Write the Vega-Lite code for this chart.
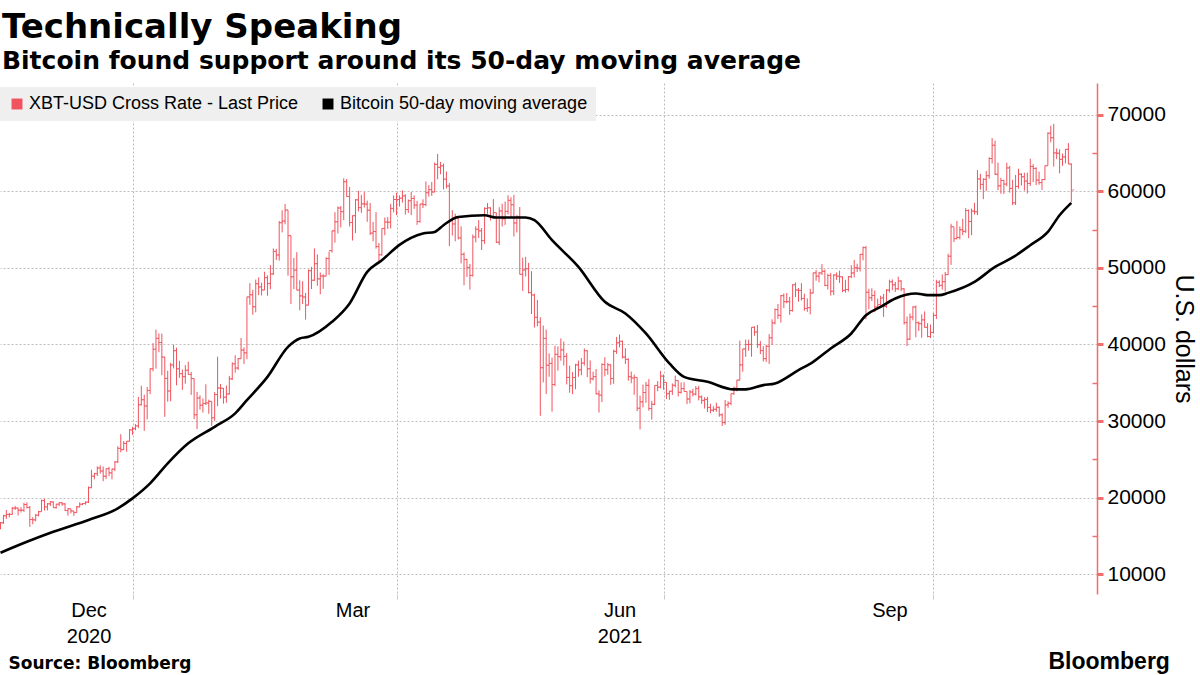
{
"$schema":"https://vega.github.io/schema/vega-lite/v6.json",
"width":1097,"height":511,
"autosize":{"type":"none"},
"padding":{"left":0,"top":83,"right":103,"bottom":81},
"background":"white",
"config":{"view":{"stroke":null},"font":"Liberation Sans"},
"title":{"text":"Technically Speaking","subtitle":"Bitcoin found support around its 50-day moving average","anchor":"start","frame":"group","offset":9,"dx":2,"font":"DejaVu Sans","fontSize":34,"fontWeight":"bold","color":"#000000","subtitleFont":"DejaVu Sans","subtitleFontSize":25,"subtitleFontWeight":"bold","subtitleColor":"#000000","subtitlePadding":4},
"datasets":{
"px":[
{"d":"2020-11-16","o":15955,"h":16820,"l":15880,"c":16716},
{"d":"2020-11-17","o":16716,"h":17760,"l":16570,"c":17645},
{"d":"2020-11-18","o":17645,"h":18394,"l":17214,"c":17804},
{"d":"2020-11-19","o":17804,"h":18020,"l":17413,"c":17817},
{"d":"2020-11-20","o":17817,"h":18799,"l":17774,"c":18621},
{"d":"2020-11-21","o":18621,"h":18936,"l":18413,"c":18642},
{"d":"2020-11-22","o":18642,"h":18688,"l":17671,"c":18370},
{"d":"2020-11-23","o":18370,"h":18759,"l":18063,"c":18365},
{"d":"2020-11-24","o":18365,"h":19348,"l":18145,"c":19107},
{"d":"2020-11-25","o":19107,"h":19390,"l":18581,"c":18732},
{"d":"2020-11-26","o":18732,"h":18915,"l":16188,"c":17150},
{"d":"2020-11-27","o":17150,"h":17457,"l":16526,"c":17109},
{"d":"2020-11-28","o":17109,"h":17853,"l":16910,"c":17717},
{"d":"2020-11-29","o":17717,"h":18283,"l":17559,"c":18177},
{"d":"2020-11-30","o":18177,"h":19749,"l":18179,"c":19625},
{"d":"2020-12-01","o":19625,"h":19845,"l":18321,"c":18802},
{"d":"2020-12-02","o":18802,"h":19308,"l":18347,"c":19201},
{"d":"2020-12-03","o":19201,"h":19566,"l":18925,"c":19446},
{"d":"2020-12-04","o":19446,"h":19512,"l":18697,"c":18699},
{"d":"2020-12-05","o":18699,"h":19160,"l":18590,"c":19155},
{"d":"2020-12-06","o":19155,"h":19390,"l":18897,"c":19345},
{"d":"2020-12-07","o":19345,"h":19411,"l":18931,"c":19191},
{"d":"2020-12-08","o":19191,"h":19283,"l":18269,"c":18321},
{"d":"2020-12-09","o":18321,"h":18639,"l":17650,"c":18553},
{"d":"2020-12-10","o":18553,"h":18553,"l":17957,"c":18264},
{"d":"2020-12-11","o":18264,"h":18268,"l":17619,"c":18058},
{"d":"2020-12-12","o":18058,"h":18919,"l":18047,"c":18803},
{"d":"2020-12-13","o":18803,"h":19381,"l":18735,"c":19142},
{"d":"2020-12-14","o":19142,"h":19305,"l":19012,"c":19246},
{"d":"2020-12-15","o":19246,"h":19525,"l":19079,"c":19417},
{"d":"2020-12-16","o":19417,"h":21458,"l":19298,"c":21310},
{"d":"2020-12-17","o":21310,"h":23642,"l":21234,"c":22805},
{"d":"2020-12-18","o":22805,"h":23238,"l":22399,"c":23137},
{"d":"2020-12-19","o":23137,"h":24085,"l":22828,"c":23869},
{"d":"2020-12-20","o":23869,"h":24209,"l":23147,"c":23477},
{"d":"2020-12-21","o":23477,"h":24059,"l":22159,"c":22803},
{"d":"2020-12-22","o":22803,"h":23789,"l":22430,"c":23783},
{"d":"2020-12-23","o":23783,"h":24024,"l":22802,"c":23241},
{"d":"2020-12-24","o":23241,"h":23783,"l":22397,"c":23735},
{"d":"2020-12-25","o":23735,"h":24785,"l":23464,"c":24664},
{"d":"2020-12-26","o":24664,"h":26718,"l":24522,"c":26437},
{"d":"2020-12-27","o":26437,"h":28288,"l":25923,"c":26272},
{"d":"2020-12-28","o":26272,"h":27389,"l":26207,"c":27084},
{"d":"2020-12-29","o":27084,"h":27370,"l":25987,"c":27362},
{"d":"2020-12-30","o":27362,"h":28937,"l":27360,"c":28840},
{"d":"2020-12-31","o":28840,"h":29244,"l":28201,"c":29002},
{"d":"2021-01-01","o":29002,"h":29601,"l":28803,"c":29374},
{"d":"2021-01-02","o":29374,"h":33155,"l":29091,"c":32127},
{"d":"2021-01-03","o":32127,"h":34608,"l":32052,"c":32782},
{"d":"2021-01-04","o":32782,"h":33440,"l":28722,"c":31971},
{"d":"2021-01-05","o":31971,"h":34437,"l":30221,"c":33992},
{"d":"2021-01-06","o":33992,"h":36879,"l":33514,"c":36824},
{"d":"2021-01-07","o":36824,"h":40180,"l":36491,"c":39371},
{"d":"2021-01-08","o":39371,"h":41946,"l":36838,"c":40797},
{"d":"2021-01-09","o":40797,"h":41436,"l":38981,"c":40254},
{"d":"2021-01-10","o":40254,"h":41420,"l":35984,"c":38356},
{"d":"2021-01-11","o":38356,"h":38356,"l":30549,"c":35566},
{"d":"2021-01-12","o":35566,"h":36568,"l":32531,"c":33922},
{"d":"2021-01-13","o":33922,"h":37599,"l":32585,"c":37316},
{"d":"2021-01-14","o":37316,"h":39966,"l":36868,"c":39187},
{"d":"2021-01-15","o":39187,"h":39577,"l":34659,"c":36825},
{"d":"2021-01-16","o":36825,"h":37864,"l":35633,"c":36178},
{"d":"2021-01-17","o":36178,"h":36722,"l":34069,"c":35792},
{"d":"2021-01-18","o":35792,"h":37299,"l":34883,"c":36630},
{"d":"2021-01-19","o":36630,"h":37755,"l":36070,"c":36070},
{"d":"2021-01-20","o":36070,"h":36415,"l":33407,"c":35547},
{"d":"2021-01-21","o":35547,"h":35552,"l":30250,"c":30825},
{"d":"2021-01-22","o":30825,"h":33811,"l":28953,"c":33005},
{"d":"2021-01-23","o":33005,"h":33360,"l":31493,"c":32067},
{"d":"2021-01-24","o":32067,"h":32944,"l":31106,"c":32289},
{"d":"2021-01-25","o":32289,"h":34802,"l":32087,"c":32366},
{"d":"2021-01-26","o":32366,"h":32794,"l":30942,"c":32569},
{"d":"2021-01-27","o":32569,"h":32564,"l":29367,"c":30432},
{"d":"2021-01-28","o":30432,"h":33784,"l":30023,"c":33466},
{"d":"2021-01-29","o":33466,"h":38406,"l":31942,"c":34316},
{"d":"2021-01-30","o":34316,"h":34834,"l":32940,"c":34269},
{"d":"2021-01-31","o":34269,"h":34288,"l":32270,"c":33114},
{"d":"2021-02-01","o":33114,"h":34638,"l":32384,"c":33538},
{"d":"2021-02-02","o":33538,"h":35896,"l":33489,"c":35510},
{"d":"2021-02-03","o":35510,"h":37662,"l":35362,"c":37473},
{"d":"2021-02-04","o":37473,"h":38592,"l":36317,"c":36926},
{"d":"2021-02-05","o":36926,"h":38225,"l":36658,"c":38144},
{"d":"2021-02-06","o":38144,"h":40846,"l":38138,"c":39266},
{"d":"2021-02-07","o":39266,"h":39621,"l":37446,"c":38904},
{"d":"2021-02-08","o":38904,"h":46203,"l":38076,"c":46196},
{"d":"2021-02-09","o":46196,"h":48004,"l":45166,"c":46481},
{"d":"2021-02-10","o":46481,"h":47145,"l":43881,"c":44918},
{"d":"2021-02-11","o":44918,"h":48463,"l":44187,"c":47909},
{"d":"2021-02-12","o":47909,"h":48745,"l":46425,"c":47504},
{"d":"2021-02-13","o":47504,"h":48047,"l":46392,"c":47105},
{"d":"2021-02-14","o":47105,"h":49487,"l":47114,"c":48717},
{"d":"2021-02-15","o":48717,"h":49010,"l":46362,"c":47945},
{"d":"2021-02-16","o":47945,"h":50341,"l":47201,"c":49199},
{"d":"2021-02-17","o":49199,"h":52533,"l":49072,"c":52149},
{"d":"2021-02-18","o":52149,"h":52474,"l":51015,"c":51679},
{"d":"2021-02-19","o":51679,"h":56113,"l":50937,"c":55888},
{"d":"2021-02-20","o":55888,"h":57505,"l":54626,"c":56099},
{"d":"2021-02-21","o":56099,"h":58330,"l":55673,"c":57539},
{"d":"2021-02-22","o":57539,"h":57534,"l":48967,"c":54207},
{"d":"2021-02-23","o":54207,"h":54205,"l":45290,"c":48824},
{"d":"2021-02-24","o":48824,"h":51290,"l":47213,"c":49705},
{"d":"2021-02-25","o":49705,"h":52041,"l":47073,"c":47093},
{"d":"2021-02-26","o":47093,"h":48370,"l":44454,"c":46339},
{"d":"2021-02-27","o":46339,"h":48253,"l":45269,"c":46188},
{"d":"2021-02-28","o":46188,"h":46716,"l":43241,"c":45137},
{"d":"2021-03-01","o":45137,"h":49784,"l":45115,"c":49631},
{"d":"2021-03-02","o":49631,"h":50127,"l":47228,"c":48378},
{"d":"2021-03-03","o":48378,"h":52535,"l":48274,"c":50538},
{"d":"2021-03-04","o":50538,"h":51735,"l":47656,"c":48561},
{"d":"2021-03-05","o":48561,"h":49396,"l":46542,"c":48927},
{"d":"2021-03-06","o":48927,"h":49147,"l":47257,"c":48912},
{"d":"2021-03-07","o":48912,"h":51384,"l":48918,"c":51206},
{"d":"2021-03-08","o":51206,"h":52128,"l":49072,"c":52246},
{"d":"2021-03-09","o":52246,"h":54824,"l":51981,"c":54824},
{"d":"2021-03-10","o":54824,"h":57258,"l":53290,"c":56008},
{"d":"2021-03-11","o":56008,"h":58013,"l":54484,"c":57805},
{"d":"2021-03-12","o":57805,"h":58058,"l":55269,"c":57332},
{"d":"2021-03-13","o":57332,"h":61683,"l":56217,"c":61243},
{"d":"2021-03-14","o":61243,"h":61597,"l":59302,"c":59302},
{"d":"2021-03-15","o":59302,"h":60540,"l":55393,"c":55907},
{"d":"2021-03-16","o":55907,"h":56833,"l":53555,"c":56804},
{"d":"2021-03-17","o":56804,"h":58969,"l":54528,"c":58870},
{"d":"2021-03-18","o":58870,"h":60048,"l":57365,"c":57858},
{"d":"2021-03-19","o":57858,"h":59498,"l":57167,"c":58346},
{"d":"2021-03-20","o":58346,"h":59880,"l":57868,"c":58313},
{"d":"2021-03-21","o":58313,"h":58767,"l":56005,"c":57523},
{"d":"2021-03-22","o":57523,"h":58471,"l":54288,"c":54529},
{"d":"2021-03-23","o":54529,"h":55985,"l":53470,"c":54738},
{"d":"2021-03-24","o":54738,"h":57262,"l":52514,"c":52775},
{"d":"2021-03-25","o":52775,"h":53229,"l":50702,"c":51704},
{"d":"2021-03-26","o":51704,"h":55137,"l":51579,"c":55137},
{"d":"2021-03-27","o":55137,"h":56568,"l":54242,"c":55974},
{"d":"2021-03-28","o":55974,"h":56611,"l":55071,"c":55947},
{"d":"2021-03-29","o":55947,"h":58343,"l":55139,"c":57750},
{"d":"2021-03-30","o":57750,"h":59447,"l":57251,"c":58918},
{"d":"2021-03-31","o":58918,"h":59800,"l":56869,"c":58918},
{"d":"2021-04-01","o":58918,"h":59460,"l":57997,"c":59095},
{"d":"2021-04-02","o":59095,"h":60110,"l":58506,"c":59384},
{"d":"2021-04-03","o":59384,"h":59592,"l":56954,"c":57603},
{"d":"2021-04-04","o":57603,"h":58913,"l":57168,"c":58758},
{"d":"2021-04-05","o":58758,"h":59891,"l":56873,"c":59057},
{"d":"2021-04-06","o":59057,"h":59448,"l":57696,"c":58192},
{"d":"2021-04-07","o":58192,"h":58731,"l":55604,"c":56048},
{"d":"2021-04-08","o":56048,"h":58338,"l":55879,"c":58323},
{"d":"2021-04-09","o":58323,"h":58937,"l":57807,"c":58245},
{"d":"2021-04-10","o":58245,"h":61276,"l":58039,"c":59793},
{"d":"2021-04-11","o":59793,"h":60790,"l":59289,"c":60204},
{"d":"2021-04-12","o":60204,"h":61199,"l":59381,"c":59893},
{"d":"2021-04-13","o":59893,"h":63742,"l":59869,"c":63503},
{"d":"2021-04-14","o":63503,"h":64863,"l":61554,"c":63109},
{"d":"2021-04-15","o":63109,"h":63822,"l":62208,"c":63314},
{"d":"2021-04-16","o":63314,"h":63595,"l":60222,"c":61572},
{"d":"2021-04-17","o":61572,"h":62572,"l":60361,"c":60683},
{"d":"2021-04-18","o":60683,"h":61058,"l":52829,"c":56216},
{"d":"2021-04-19","o":56216,"h":57526,"l":54221,"c":55724},
{"d":"2021-04-20","o":55724,"h":57062,"l":53449,"c":56473},
{"d":"2021-04-21","o":56473,"h":56757,"l":53695,"c":53906},
{"d":"2021-04-22","o":53906,"h":55410,"l":50583,"c":51763},
{"d":"2021-04-23","o":51763,"h":52017,"l":47714,"c":51093},
{"d":"2021-04-24","o":51093,"h":51167,"l":48806,"c":50050},
{"d":"2021-04-25","o":50050,"h":50506,"l":47159,"c":49004},
{"d":"2021-04-26","o":49004,"h":54356,"l":48852,"c":54021},
{"d":"2021-04-27","o":54021,"h":55416,"l":53319,"c":55033},
{"d":"2021-04-28","o":55033,"h":56227,"l":53887,"c":54824},
{"d":"2021-04-29","o":54824,"h":55195,"l":52330,"c":53555},
{"d":"2021-04-30","o":53555,"h":57900,"l":53129,"c":57750},
{"d":"2021-05-01","o":57750,"h":58448,"l":57052,"c":57828},
{"d":"2021-05-02","o":57828,"h":57912,"l":56168,"c":56631},
{"d":"2021-05-03","o":56631,"h":58973,"l":56590,"c":57200},
{"d":"2021-05-04","o":57200,"h":57200,"l":53241,"c":53333},
{"d":"2021-05-05","o":53333,"h":57911,"l":52970,"c":57424},
{"d":"2021-05-06","o":57424,"h":58363,"l":55382,"c":56396},
{"d":"2021-05-07","o":56396,"h":58645,"l":55593,"c":57356},
{"d":"2021-05-08","o":57356,"h":59464,"l":56975,"c":58803},
{"d":"2021-05-09","o":58803,"h":59210,"l":56482,"c":58232},
{"d":"2021-05-10","o":58232,"h":59520,"l":54072,"c":55859},
{"d":"2021-05-11","o":55859,"h":56872,"l":54608,"c":56704},
{"d":"2021-05-12","o":56704,"h":57939,"l":49150,"c":49150},
{"d":"2021-05-13","o":49150,"h":51330,"l":46980,"c":49716},
{"d":"2021-05-14","o":49716,"h":51438,"l":48868,"c":49880},
{"d":"2021-05-15","o":49880,"h":50639,"l":46664,"c":46760},
{"d":"2021-05-16","o":46760,"h":49557,"l":43963,"c":46456},
{"d":"2021-05-17","o":46456,"h":46623,"l":42207,"c":43538},
{"d":"2021-05-18","o":43538,"h":45812,"l":42367,"c":42909},
{"d":"2021-05-19","o":42909,"h":43547,"l":30681,"c":36964},
{"d":"2021-05-20","o":36964,"h":42462,"l":35050,"c":40784},
{"d":"2021-05-21","o":40784,"h":41943,"l":33533,"c":37281},
{"d":"2021-05-22","o":37281,"h":38832,"l":35784,"c":37528},
{"d":"2021-05-23","o":37528,"h":38270,"l":31227,"c":34770},
{"d":"2021-05-24","o":34770,"h":39836,"l":34551,"c":38705},
{"d":"2021-05-25","o":38705,"h":39743,"l":36581,"c":38402},
{"d":"2021-05-26","o":38402,"h":40782,"l":37869,"c":39294},
{"d":"2021-05-27","o":39294,"h":40379,"l":37247,"c":38436},
{"d":"2021-05-28","o":38436,"h":38856,"l":34779,"c":35697},
{"d":"2021-05-29","o":35697,"h":37234,"l":33693,"c":34616},
{"d":"2021-05-30","o":34616,"h":36400,"l":33520,"c":35678},
{"d":"2021-05-31","o":35678,"h":37469,"l":34153,"c":37332},
{"d":"2021-06-01","o":37332,"h":37896,"l":35787,"c":36684},
{"d":"2021-06-02","o":36684,"h":38231,"l":35967,"c":37575},
{"d":"2021-06-03","o":37575,"h":39476,"l":37243,"c":39187},
{"d":"2021-06-04","o":39187,"h":39242,"l":35717,"c":36825},
{"d":"2021-06-05","o":36825,"h":37917,"l":34900,"c":35520},
{"d":"2021-06-06","o":35520,"h":36436,"l":35304,"c":35796},
{"d":"2021-06-07","o":35796,"h":36790,"l":33480,"c":33552},
{"d":"2021-06-08","o":33552,"h":34017,"l":31114,"c":33380},
{"d":"2021-06-09","o":33380,"h":37537,"l":32475,"c":37389},
{"d":"2021-06-10","o":37389,"h":38334,"l":35847,"c":36702},
{"d":"2021-06-11","o":36702,"h":37608,"l":36044,"c":37334},
{"d":"2021-06-12","o":37334,"h":37408,"l":34728,"c":35552},
{"d":"2021-06-13","o":35552,"h":39322,"l":34864,"c":39097},
{"d":"2021-06-14","o":39097,"h":40978,"l":38757,"c":40218},
{"d":"2021-06-15","o":40218,"h":41295,"l":39609,"c":40406},
{"d":"2021-06-16","o":40406,"h":40516,"l":38176,"c":38347},
{"d":"2021-06-17","o":38347,"h":39513,"l":37439,"c":38053},
{"d":"2021-06-18","o":38053,"h":38187,"l":35255,"c":35787},
{"d":"2021-06-19","o":35787,"h":36457,"l":34933,"c":35615},
{"d":"2021-06-20","o":35615,"h":36059,"l":33432,"c":35698},
{"d":"2021-06-21","o":35698,"h":35721,"l":31295,"c":31676},
{"d":"2021-06-22","o":31676,"h":33298,"l":28893,"c":32505},
{"d":"2021-06-23","o":32505,"h":34753,"l":31772,"c":33724},
{"d":"2021-06-24","o":33724,"h":35108,"l":32385,"c":34663},
{"d":"2021-06-25","o":34663,"h":35487,"l":31350,"c":31637},
{"d":"2021-06-26","o":31637,"h":32637,"l":30184,"c":32186},
{"d":"2021-06-27","o":32186,"h":34656,"l":32071,"c":34649},
{"d":"2021-06-28","o":34649,"h":35219,"l":33902,"c":34434},
{"d":"2021-06-29","o":34434,"h":36542,"l":34252,"c":35867},
{"d":"2021-06-30","o":35867,"h":36074,"l":34086,"c":35041},
{"d":"2021-07-01","o":35041,"h":35035,"l":32883,"c":33572},
{"d":"2021-07-02","o":33572,"h":33939,"l":32770,"c":33897},
{"d":"2021-07-03","o":33897,"h":34909,"l":33402,"c":34668},
{"d":"2021-07-04","o":34668,"h":35937,"l":34396,"c":35287},
{"d":"2021-07-05","o":35287,"h":35284,"l":33213,"c":33746},
{"d":"2021-07-06","o":33746,"h":35038,"l":33599,"c":34235},
{"d":"2021-07-07","o":34235,"h":35059,"l":33861,"c":33855},
{"d":"2021-07-08","o":33855,"h":33855,"l":32210,"c":32877},
{"d":"2021-07-09","o":32877,"h":34042,"l":32318,"c":33798},
{"d":"2021-07-10","o":33798,"h":34204,"l":33215,"c":33520},
{"d":"2021-07-11","o":33520,"h":34563,"l":33333,"c":34240},
{"d":"2021-07-12","o":34240,"h":34592,"l":32697,"c":33155},
{"d":"2021-07-13","o":33155,"h":33340,"l":32241,"c":32702},
{"d":"2021-07-14","o":32702,"h":33114,"l":31639,"c":32822},
{"d":"2021-07-15","o":32822,"h":33159,"l":31175,"c":31780},
{"d":"2021-07-16","o":31780,"h":32249,"l":31021,"c":31421},
{"d":"2021-07-17","o":31421,"h":31936,"l":31178,"c":31533},
{"d":"2021-07-18","o":31533,"h":32398,"l":31215,"c":31796},
{"d":"2021-07-19","o":31796,"h":31885,"l":30563,"c":30817},
{"d":"2021-07-20","o":30817,"h":31006,"l":29360,"c":29807},
{"d":"2021-07-21","o":29807,"h":32752,"l":29526,"c":32110},
{"d":"2021-07-22","o":32110,"h":32576,"l":31745,"c":32313},
{"d":"2021-07-23","o":32313,"h":33581,"l":32057,"c":33581},
{"d":"2021-07-24","o":33581,"h":34490,"l":33424,"c":34292},
{"d":"2021-07-25","o":34292,"h":35364,"l":33881,"c":35350},
{"d":"2021-07-26","o":35350,"h":40499,"l":35287,"c":37337},
{"d":"2021-07-27","o":37337,"h":39406,"l":36441,"c":39406},
{"d":"2021-07-28","o":39406,"h":40640,"l":38373,"c":39995},
{"d":"2021-07-29","o":39995,"h":40626,"l":39196,"c":40008},
{"d":"2021-07-30","o":40008,"h":42236,"l":38397,"c":42236},
{"d":"2021-07-31","o":42236,"h":42372,"l":41136,"c":41626},
{"d":"2021-08-01","o":41626,"h":42541,"l":39540,"c":39974},
{"d":"2021-08-02","o":39974,"h":40446,"l":38746,"c":39201},
{"d":"2021-08-03","o":39201,"h":39780,"l":37782,"c":38153},
{"d":"2021-08-04","o":38153,"h":39953,"l":37715,"c":39747},
{"d":"2021-08-05","o":39747,"h":41341,"l":37459,"c":40869},
{"d":"2021-08-06","o":40869,"h":43271,"l":39932,"c":42816},
{"d":"2021-08-07","o":42816,"h":44689,"l":42618,"c":44555},
{"d":"2021-08-08","o":44555,"h":45282,"l":43331,"c":43798},
{"d":"2021-08-09","o":43798,"h":46456,"l":42848,"c":46365},
{"d":"2021-08-10","o":46365,"h":46643,"l":44742,"c":45585},
{"d":"2021-08-11","o":45585,"h":46718,"l":45359,"c":45593},
{"d":"2021-08-12","o":45593,"h":46216,"l":43861,"c":44428},
{"d":"2021-08-13","o":44428,"h":47831,"l":44282,"c":47793},
{"d":"2021-08-14","o":47793,"h":48098,"l":46177,"c":47097},
{"d":"2021-08-15","o":47097,"h":47357,"l":45579,"c":47047},
{"d":"2021-08-16","o":47047,"h":47998,"l":45732,"c":46004},
{"d":"2021-08-17","o":46004,"h":46643,"l":44376,"c":44695},
{"d":"2021-08-18","o":44695,"h":46003,"l":44251,"c":44802},
{"d":"2021-08-19","o":44802,"h":47261,"l":43927,"c":46717},
{"d":"2021-08-20","o":46717,"h":49342,"l":46651,"c":49339},
{"d":"2021-08-21","o":49339,"h":49717,"l":48312,"c":48905},
{"d":"2021-08-22","o":48905,"h":49471,"l":48119,"c":49321},
{"d":"2021-08-23","o":49321,"h":50482,"l":49074,"c":49546},
{"d":"2021-08-24","o":49546,"h":49775,"l":47600,"c":47707},
{"d":"2021-08-25","o":47707,"h":49230,"l":47163,"c":48993},
{"d":"2021-08-26","o":48993,"h":49342,"l":46371,"c":46942},
{"d":"2021-08-27","o":46942,"h":49150,"l":46447,"c":49058},
{"d":"2021-08-28","o":49058,"h":49403,"l":48424,"c":48902},
{"d":"2021-08-29","o":48902,"h":49629,"l":48030,"c":48830},
{"d":"2021-08-30","o":48830,"h":48873,"l":46813,"c":47055},
{"d":"2021-08-31","o":47055,"h":48437,"l":46743,"c":47166},
{"d":"2021-09-01","o":47166,"h":48936,"l":46905,"c":48848},
{"d":"2021-09-02","o":48848,"h":50344,"l":48660,"c":49327},
{"d":"2021-09-03","o":49327,"h":51033,"l":48742,"c":50025},
{"d":"2021-09-04","o":50025,"h":50536,"l":49445,"c":49944},
{"d":"2021-09-05","o":49944,"h":51815,"l":49521,"c":51753},
{"d":"2021-09-06","o":51753,"h":52781,"l":50972,"c":52633},
{"d":"2021-09-07","o":52633,"h":52853,"l":43285,"c":46811},
{"d":"2021-09-08","o":46811,"h":47281,"l":44588,"c":46091},
{"d":"2021-09-09","o":46091,"h":47338,"l":45668,"c":46391},
{"d":"2021-09-10","o":46391,"h":47026,"l":44203,"c":44883},
{"d":"2021-09-11","o":44883,"h":45970,"l":44771,"c":45201},
{"d":"2021-09-12","o":45201,"h":46364,"l":44790,"c":46063},
{"d":"2021-09-13","o":46063,"h":46598,"l":43591,"c":44963},
{"d":"2021-09-14","o":44963,"h":47218,"l":44752,"c":47092},
{"d":"2021-09-15","o":47092,"h":48450,"l":46773,"c":48176},
{"d":"2021-09-16","o":48176,"h":48486,"l":47079,"c":47783},
{"d":"2021-09-17","o":47783,"h":48163,"l":46847,"c":47267},
{"d":"2021-09-18","o":47267,"h":48843,"l":47088,"c":48278},
{"d":"2021-09-19","o":48278,"h":48373,"l":46943,"c":47260},
{"d":"2021-09-20","o":47260,"h":47328,"l":42598,"c":42844},
{"d":"2021-09-21","o":42844,"h":43639,"l":39787,"c":40693},
{"d":"2021-09-22","o":40693,"h":44035,"l":40584,"c":43574},
{"d":"2021-09-23","o":43574,"h":44968,"l":43143,"c":44896},
{"d":"2021-09-24","o":44896,"h":45080,"l":40937,"c":42840},
{"d":"2021-09-25","o":42840,"h":42996,"l":41759,"c":42716},
{"d":"2021-09-26","o":42716,"h":43920,"l":40878,"c":43208},
{"d":"2021-09-27","o":43208,"h":44313,"l":42190,"c":42236},
{"d":"2021-09-28","o":42236,"h":42775,"l":40931,"c":41034},
{"d":"2021-09-29","o":41034,"h":42599,"l":40829,"c":41564},
{"d":"2021-09-30","o":41564,"h":44092,"l":41444,"c":43791},
{"d":"2021-10-01","o":43791,"h":48436,"l":43321,"c":48116},
{"d":"2021-10-02","o":48116,"h":48375,"l":47481,"c":47711},
{"d":"2021-10-03","o":47711,"h":49130,"l":47157,"c":48199},
{"d":"2021-10-04","o":48199,"h":49456,"l":46895,"c":49112},
{"d":"2021-10-05","o":49112,"h":51839,"l":49072,"c":51514},
{"d":"2021-10-06","o":51514,"h":55751,"l":50382,"c":55361},
{"d":"2021-10-07","o":55361,"h":55316,"l":53357,"c":53805},
{"d":"2021-10-08","o":53805,"h":56113,"l":53720,"c":53967},
{"d":"2021-10-09","o":53967,"h":55390,"l":53703,"c":54968},
{"d":"2021-10-10","o":54968,"h":56401,"l":54264,"c":54771},
{"d":"2021-10-11","o":54771,"h":57794,"l":54554,"c":57484},
{"d":"2021-10-12","o":57484,"h":57627,"l":53879,"c":56041},
{"d":"2021-10-13","o":56041,"h":57749,"l":54258,"c":57401},
{"d":"2021-10-14","o":57401,"h":58478,"l":56957,"c":57322},
{"d":"2021-10-15","o":57322,"h":62757,"l":56868,"c":61593},
{"d":"2021-10-16","o":61593,"h":62274,"l":60206,"c":60892},
{"d":"2021-10-17","o":60892,"h":61691,"l":58963,"c":61553},
{"d":"2021-10-18","o":61553,"h":62614,"l":60012,"c":62026},
{"d":"2021-10-19","o":62026,"h":64434,"l":61622,"c":64262},
{"d":"2021-10-20","o":64262,"h":66930,"l":63610,"c":65993},
{"d":"2021-10-21","o":65993,"h":66600,"l":62117,"c":62210},
{"d":"2021-10-22","o":62210,"h":63732,"l":60122,"c":60692},
{"d":"2021-10-23","o":60692,"h":61747,"l":59668,"c":61393},
{"d":"2021-10-24","o":61393,"h":61505,"l":59643,"c":60931},
{"d":"2021-10-25","o":60931,"h":63711,"l":60650,"c":63039},
{"d":"2021-10-26","o":63039,"h":63294,"l":59817,"c":60363},
{"d":"2021-10-27","o":60363,"h":61497,"l":58173,"c":58482},
{"d":"2021-10-28","o":58482,"h":62128,"l":58206,"c":60622},
{"d":"2021-10-29","o":60622,"h":62927,"l":60329,"c":62228},
{"d":"2021-10-30","o":62228,"h":62330,"l":60744,"c":61888},
{"d":"2021-10-31","o":61888,"h":62406,"l":60074,"c":61318},
{"d":"2021-11-01","o":61318,"h":62419,"l":59695,"c":61004},
{"d":"2021-11-02","o":61004,"h":64242,"l":60673,"c":63227},
{"d":"2021-11-03","o":63227,"h":63516,"l":61184,"c":62970},
{"d":"2021-11-04","o":62970,"h":63123,"l":60799,"c":61453},
{"d":"2021-11-05","o":61453,"h":62541,"l":60844,"c":61125},
{"d":"2021-11-06","o":61125,"h":61590,"l":60163,"c":61527},
{"d":"2021-11-07","o":61527,"h":63326,"l":61432,"c":63326},
{"d":"2021-11-08","o":63326,"h":67673,"l":63344,"c":67566},
{"d":"2021-11-09","o":67566,"h":68531,"l":66382,"c":66971},
{"d":"2021-11-10","o":66971,"h":68789,"l":63208,"c":64995},
{"d":"2021-11-11","o":64995,"h":65579,"l":64180,"c":64950},
{"d":"2021-11-12","o":64950,"h":65461,"l":62333,"c":64155},
{"d":"2021-11-13","o":64155,"h":64915,"l":63303,"c":64470},
{"d":"2021-11-14","o":64470,"h":65495,"l":63647,"c":65467},
{"d":"2021-11-15","o":65467,"h":66282,"l":63548,"c":63557},
{"d":"2021-11-16","o":63557,"h":63617,"l":58574,"c":60161}
],
"ma":[
{"d":"2020-11-16","v":12820},{"d":"2020-11-25","v":14250},{"d":"2020-12-04","v":15560},{"d":"2020-12-16","v":17080},{"d":"2020-12-26","v":18610},{"d":"2020-12-31","v":19910},
{"d":"2021-01-06","v":21870},{"d":"2021-01-12","v":24480},{"d":"2021-01-19","v":27090},{"d":"2021-01-28","v":29250},{"d":"2021-02-04","v":31000},{"d":"2021-02-08","v":32730},
{"d":"2021-02-15","v":35770},{"d":"2021-02-22","v":39690},{"d":"2021-02-26","v":40780},{"d":"2021-03-01","v":40990},{"d":"2021-03-09","v":42950},{"d":"2021-03-15","v":45350},
{"d":"2021-03-21","v":49470},{"d":"2021-03-26","v":50990},{"d":"2021-04-01","v":53000},{"d":"2021-04-09","v":54480},{"d":"2021-04-13","v":54690},{"d":"2021-04-16","v":55560},
{"d":"2021-04-21","v":56640},{"d":"2021-04-30","v":56860},{"d":"2021-05-04","v":56560},{"d":"2021-05-14","v":56560},{"d":"2021-05-17","v":56210},{"d":"2021-05-23","v":53600},
{"d":"2021-06-01","v":50120},{"d":"2021-06-10","v":45560},{"d":"2021-06-17","v":44040},{"d":"2021-06-24","v":41430},{"d":"2021-07-02","v":37520},{"d":"2021-07-07","v":35770},
{"d":"2021-07-15","v":35120},{"d":"2021-07-24","v":34130},{"d":"2021-07-28","v":34130},{"d":"2021-08-03","v":34690},{"d":"2021-08-07","v":34910},{"d":"2021-08-15","v":36650},
{"d":"2021-08-20","v":37730},{"d":"2021-08-26","v":39480},{"d":"2021-09-02","v":41430},{"d":"2021-09-07","v":43820},{"d":"2021-09-12","v":44900},{"d":"2021-09-17","v":46000},
{"d":"2021-09-24","v":46650},{"d":"2021-09-28","v":46430},{"d":"2021-10-02","v":46430},{"d":"2021-10-05","v":46730},{"d":"2021-10-14","v":48160},{"d":"2021-10-21","v":50120},
{"d":"2021-10-27","v":51350},{"d":"2021-11-02","v":52950},{"d":"2021-11-08","v":54690},{"d":"2021-11-12","v":56860},{"d":"2021-11-16","v":58470}
]},
"layer":[
{"data":{"name":"px"},
 "mark":{"type":"rule","strokeWidth":1},
 "encoding":{
  "x":{"field":"d","type":"temporal","scale":{"type":"utc","domain":[{"year":2020,"month":11,"date":15,"hours":20,"utc":true},{"year":2021,"month":11,"date":24,"hours":18,"utc":true}]},
   "axis":{"values":[{"year":2020,"month":12,"date":31,"utc":true},{"year":2021,"month":3,"date":31,"utc":true},{"year":2021,"month":6,"date":30,"utc":true},{"year":2021,"month":9,"date":30,"utc":true}],
    "labelExpr":"utcmonth(datum.value) == 11 || utcmonth(datum.value) == 5 ? [utcFormat(datum.value, '%b'), utcFormat(datum.value, '%Y')] : utcFormat(datum.value, '%b')",
    "labelOffset":-44,"labelAlign":"center","labelBaseline":"top","labelFont":"Liberation Sans","labelFontSize":20,"labelColor":"#000000","labelPadding":1,"labelLineHeight":26,"labelOverlap":false,"labelBound":false,"labelFlush":false,
    "tickColor":"#c8c8c8","tickSize":5,"domain":false,"grid":true,"gridColor":"#bdbdbd","gridDash":[2,2],"gridWidth":1,
    "title":"Source: Bloomberg","titleAnchor":"start","titleAlign":"left","titleX":8,"titleY":74,"titleBaseline":"alphabetic","titleFont":"DejaVu Sans","titleFontSize":17,"titleFontWeight":"bold","titleColor":"#000000"}},
  "y":{"field":"l","type":"quantitative","scale":{"domain":[7430,74120],"nice":false,"zero":false},
   "axis":{"orient":"right","values":[10000,15000,20000,25000,30000,35000,40000,45000,50000,55000,60000,65000,70000],
    "labelExpr":"datum.value % 10000 === 0 ? datum.value : ''",
    "tickSize":{"condition":{"test":"datum.value % 10000 === 0","value":6},"value":-5},
    "tickWidth":{"condition":{"test":"datum.value % 10000 === 0","value":3},"value":1.5},
    "gridOpacity":{"condition":{"test":"datum.value % 10000 === 0","value":1},"value":0},
    "tickColor":"#f26d6d","domainColor":"#f26d6d","domainWidth":1.5,
    "labelFont":"Liberation Sans","labelFontSize":21,"labelColor":"#000000","labelPadding":4,"labelBaseline":"middle",
    "grid":true,"gridColor":"#bdbdbd","gridDash":[2,2],
    "title":"U.S. dollars","titleFont":"Liberation Sans","titleFontSize":25,"titleFontWeight":"normal","titleColor":"#000000","titleAngle":90,"titlePadding":5}},
  "y2":{"field":"h"},
  "color":{"datum":"XBT-USD Cross Rate - Last Price","type":"nominal",
   "scale":{"domain":["XBT-USD Cross Rate - Last Price","Bitcoin 50-day moving average"],"range":["#f0545e","#000000"]},
   "legend":{"orient":"none","legendX":0,"legendY":4,"direction":"horizontal","title":null,"fillColor":"#efefef","padding":8,
    "labelFont":"Liberation Sans","labelFontSize":18,"labelColor":"#000000","labelOffset":3,"columnPadding":20,"symbolSize":120,"symbolType":"square","symbolStrokeWidth":0,
    "labelLimit":400,
    "encode":{"symbols":{"update":{"fill":{"scale":"color","field":"value"},"stroke":{"value":"transparent"},"shape":{"value":"square"},"opacity":{"value":1}}}}}}
 }},
{"data":{"name":"px"},
 "mark":{"type":"tick","orient":"horizontal","size":3,"thickness":1,"xOffset":-1.5},
 "encoding":{"x":{"field":"d","type":"temporal"},"y":{"field":"o","type":"quantitative","axis":null},"color":{"datum":"XBT-USD Cross Rate - Last Price","type":"nominal"}}},
{"data":{"name":"px"},
 "mark":{"type":"tick","orient":"horizontal","size":3,"thickness":1,"xOffset":1.5},
 "encoding":{"x":{"field":"d","type":"temporal"},"y":{"field":"c","type":"quantitative","axis":null},"color":{"datum":"XBT-USD Cross Rate - Last Price","type":"nominal"}}},
{"data":{"name":"ma"},
 "mark":{"type":"line","strokeWidth":2.6,"interpolate":"monotone"},
 "encoding":{"x":{"field":"d","type":"temporal"},
  "y":{"field":"v","type":"quantitative","axis":{"orient":"right","domain":false,"ticks":false,"labels":false,"grid":false,"title":"Bloomberg","titleAngle":0,"titleX":-49,"titleY":585,"titleAlign":"left","titleBaseline":"alphabetic","titleFont":"Liberation Sans","titleFontSize":23,"titleFontWeight":"bold","titleColor":"#000000"}},
  "color":{"datum":"Bitcoin 50-day moving average","type":"nominal"}}}
],
"resolve":{"axis":{"y":"independent"}}
}
